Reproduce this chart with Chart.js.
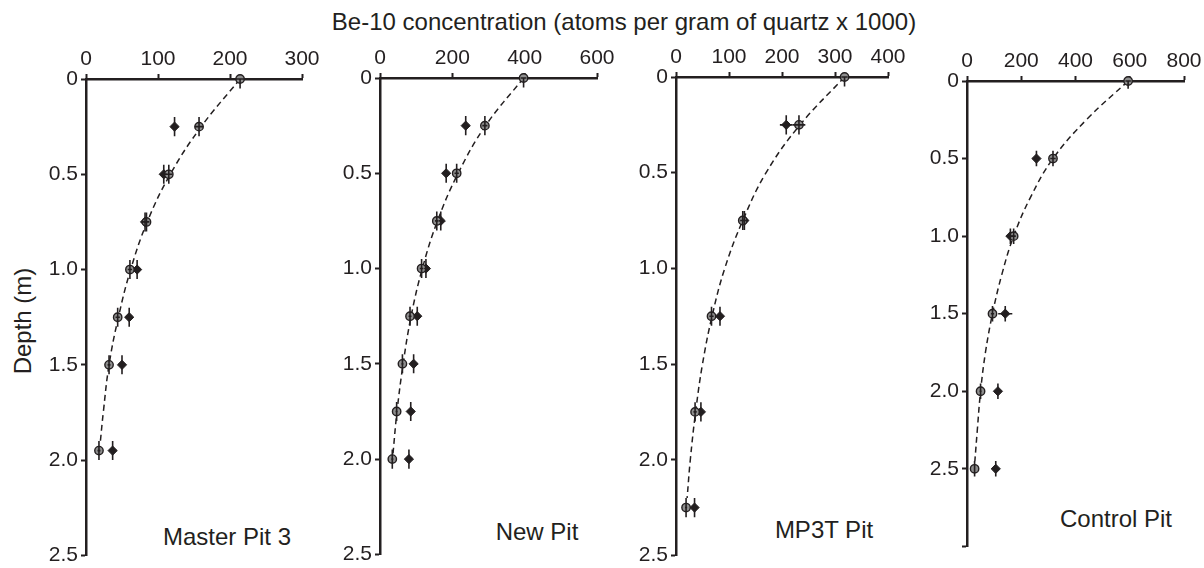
<!DOCTYPE html>
<html>
<head>
<meta charset="utf-8">
<script src="https://cdn.jsdelivr.net/npm/chart.js@4.4.1/dist/chart.umd.min.js"></script>
<style>
  body { margin: 0; width: 1204px; height: 568px; background: #fff; position: relative; overflow: hidden;
         font-family: "Liberation Sans", Arial, sans-serif; color: #231f20; }
  .panel { position: absolute; }
  .txt { position: absolute; white-space: nowrap; font-size: 24px; line-height: 24px; transform: translate(-50%, -50%); }
  #depth { transform: translate(-50%, -50%) rotate(-90deg); }
</style>
</head>
<body>
<div class="txt" style="left:624px;top:22px">Be-10 concentration (atoms per gram of quartz x 1000)</div>
<div class="txt" id="depth" style="left:23px;top:321px">Depth (m)</div>
<div class="txt" style="left:227px;top:537px">Master Pit 3</div>
<div class="txt" style="left:537px;top:532px">New Pit</div>
<div class="txt" style="left:824px;top:530px">MP3T Pit</div>
<div class="txt" style="left:1116px;top:519px">Control Pit</div>

<div class="panel" id="p1"><canvas id="chart-mp3"></canvas></div>
<div class="panel" id="p2"><canvas id="chart-np"></canvas></div>
<div class="panel" id="p3"><canvas id="chart-mp3t"></canvas></div>
<div class="panel" id="p4"><canvas id="chart-cp"></canvas></div>

<script>
  /* ================= DATA ================= */

  // depth half-interval of every sample (m)
  const depthErr = 0.05;
  const depthTicks = [0, 0.5, 1.0, 1.5, 2.0, 2.5];
  const depthTicksControl = [0, 0.5, 1.0, 1.5, 2.0, 2.5, 3.0];

  // Master Pit 3
  const mp3Ticks = [0, 100, 200, 300];
  const mp3GreyDepth = [0, 0.25, 0.5, 0.75, 1.0, 1.25, 1.5, 1.95];
  const mp3Grey = [214, 157, 115, 84, 61, 44, 32, 18];
  const mp3GreyErr = [6, 6, 5, 4, 3, 3, 2, 2];
  const mp3BlackDepth = [0.25, 0.5, 0.75, 1.0, 1.25, 1.5, 1.95];
  const mp3Black = [123, 108, 82, 71, 60, 50, 37];
  const mp3BlackErr = [4, 4, 3, 3, 3, 2, 2];
  const mp3FitDepth = [0, 0.25, 0.5, 0.75, 1.0, 1.25, 1.5, 1.75, 1.9];
  const mp3Fit = [214, 160, 117, 85, 62, 45, 32, 24, 20];

  // New Pit
  const npTicks = [0, 200, 400, 600];
  const npGreyDepth = [0, 0.25, 0.5, 0.75, 1.0, 1.25, 1.5, 1.75, 2.0];
  const npGrey = [397, 290, 212, 157, 115, 83, 62, 46, 34];
  const npGreyErr = [8, 7, 6, 5, 5, 4, 3, 3, 3];
  const npBlackDepth = [0.25, 0.5, 0.75, 1.0, 1.25, 1.5, 1.75, 2.0];
  const npBlack = [237, 183, 168, 127, 103, 93, 85, 80];
  const npBlackErr = [6, 6, 5, 5, 4, 4, 4, 4];
  const npFitDepth = [0, 0.25, 0.5, 0.75, 1.0, 1.25, 1.5, 1.75, 1.97];
  const npFit = [397, 292, 216, 159, 117, 86, 64, 47, 36];

  // MP3T Pit
  const mtTicks = [0, 100, 200, 300, 400];
  const mtGreyDepth = [0, 0.25, 0.75, 1.25, 1.75, 2.25];
  const mtGrey = [318, 232, 126, 67, 36, 19];
  const mtGreyErr = [6, 12, 5, 4, 3, 2];
  const mtBlackDepth = [0.25, 0.75, 1.25, 1.75, 2.25];
  const mtBlack = [208, 129, 83, 47, 35];
  const mtBlackErr = [12, 5, 4, 3, 3];
  const mtFitDepth = [0, 0.25, 0.5, 0.75, 1.0, 1.25, 1.5, 1.75, 2.0, 2.2];
  const mtFit = [318, 234, 170, 126, 92, 68, 50, 37, 27, 21];

  // Control Pit
  const cpTicks = [0, 200, 400, 600, 800];
  const cpGreyDepth = [0, 0.5, 1.0, 1.5, 2.0, 2.5];
  const cpGrey = [594, 317, 172, 94, 50, 28];
  const cpGreyErr = [10, 10, 8, 6, 4, 3];
  const cpBlackDepth = [0.5, 1.0, 1.5, 2.0, 2.5];
  const cpBlack = [256, 160, 141, 114, 106];
  const cpBlackErr = [8, 8, 26, 6, 6];
  const cpFitDepth = [0, 0.25, 0.5, 0.75, 1.0, 1.25, 1.5, 1.75, 2.0, 2.25, 2.45];
  const cpFit = [594, 440, 317, 234, 172, 128, 94, 68, 50, 38, 29];

  /* ================= STYLE ================= */

  const ink = '#231f20';
  const family = '"Liberation Sans", Arial, sans-serif';
  const yAxisWidth = 60;
  const xAxisHeight = 50;
  const padRight = 24;
  const padBottom = 12;

  const toPoints = (depths, vals) => depths.map((d, i) => ({ x: vals[i], y: d }));

  // vertical (depth) and horizontal (concentration) error bars
  const errorBars = {
    id: 'errorBars',
    afterDatasetsDraw(chart) {
      let { ctx, scales: { x, y } } = chart;
      ctx.save();
      ctx.strokeStyle = ink;
      ctx.lineWidth = 1.6;
      chart.data.datasets.forEach(ds => {
        if (!ds.errX) return;
        ds.data.forEach((p, i) => {
          let px = x.getPixelForValue(p.x);
          let py = y.getPixelForValue(p.y);
          ctx.beginPath();
          ctx.moveTo(px, y.getPixelForValue(Math.max(0, p.y - depthErr)));
          ctx.lineTo(px, y.getPixelForValue(p.y + depthErr));
          ctx.moveTo(x.getPixelForValue(p.x - ds.errX[i]), py);
          ctx.lineTo(x.getPixelForValue(p.x + ds.errX[i]), py);
          ctx.stroke();
        });
      });
      ctx.restore();
    }
  };

  const panels = [
    { el: 'p1', canvas: 'chart-mp3', area: [86, 79, 302, 559], xTicks: mp3Ticks, yTicks: depthTicks,
      grey: toPoints(mp3GreyDepth, mp3Grey), greyErr: mp3GreyErr,
      black: toPoints(mp3BlackDepth, mp3Black), blackErr: mp3BlackErr,
      fit: toPoints(mp3FitDepth, mp3Fit) },
    { el: 'p2', canvas: 'chart-np', area: [380, 78, 597, 558], xTicks: npTicks, yTicks: depthTicks,
      grey: toPoints(npGreyDepth, npGrey), greyErr: npGreyErr,
      black: toPoints(npBlackDepth, npBlack), blackErr: npBlackErr,
      fit: toPoints(npFitDepth, npFit) },
    { el: 'p3', canvas: 'chart-mp3t', area: [676, 77, 888, 559], xTicks: mtTicks, yTicks: depthTicks,
      grey: toPoints(mtGreyDepth, mtGrey), greyErr: mtGreyErr,
      black: toPoints(mtBlackDepth, mtBlack), blackErr: mtBlackErr,
      fit: toPoints(mtFitDepth, mtFit) },
    { el: 'p4', canvas: 'chart-cp', area: [967, 81, 1184, 550], xTicks: cpTicks, yTicks: depthTicksControl,
      grey: toPoints(cpGreyDepth, cpGrey), greyErr: cpGreyErr,
      black: toPoints(cpBlackDepth, cpBlack), blackErr: cpBlackErr,
      fit: toPoints(cpFitDepth, cpFit) }
  ];

  panels.forEach(p => {
    let [l, t, r, b] = p.area;
    let box = document.getElementById(p.el);
    let left = l - yAxisWidth, top = t - xAxisHeight;
    box.style.left = left + 'px';
    box.style.top = top + 'px';
    box.style.width = (r - left + padRight) + 'px';
    box.style.height = (b - top + padBottom) + 'px';

    let xt = p.xTicks, yt = p.yTicks;
    let yLast = yt[yt.length - 1];

    new Chart(document.getElementById(p.canvas), {
      type: 'scatter',
      data: {
        datasets: [
          { data: p.grey, errX: p.greyErr, pointStyle: 'circle', pointRadius: 4.2,
            backgroundColor: '#8e8e8e', borderColor: ink, pointBorderWidth: 1.4, clip: false },
          { data: p.black, errX: p.blackErr, pointStyle: 'rectRot', pointRadius: 4.6,
            backgroundColor: ink, borderColor: ink, pointBorderWidth: 1, clip: false },
          { data: p.fit, showLine: true, pointRadius: 0, tension: 0.4, borderColor: ink,
            borderWidth: 1.5, borderDash: [6, 4], fill: false, clip: false }
        ]
      },
      options: {
        responsive: true,
        maintainAspectRatio: false,
        animation: false,
        events: [],
        layout: { padding: { left: 0, top: 0, right: padRight, bottom: padBottom } },
        plugins: { legend: { display: false }, tooltip: { enabled: false } },
        scales: {
          x: {
            type: 'linear', position: 'top',
            min: xt[0], max: xt[xt.length - 1],
            ticks: { stepSize: xt[1] - xt[0], color: ink, padding: 2, maxRotation: 0, autoSkip: false,
                     font: { family, size: 21 } },
            grid: { drawOnChartArea: false, tickLength: 5, tickWidth: 2, color: ink },
            border: { color: ink, width: 2.5 },
            afterFit: s => { s.height = xAxisHeight; }
          },
          y: {
            type: 'linear', reverse: true,
            min: yt[0], max: yLast,
            ticks: { stepSize: yt[1] - yt[0], color: ink, padding: 3, autoSkip: false,
                     font: { family, size: 21 },
                     callback: v => v === 0 ? '0' : (v === 3 ? '' : v.toFixed(1)) },
            grid: { drawOnChartArea: false, tickLength: 5, tickWidth: 2, color: ink },
            border: { color: ink, width: 2.5 },
            afterFit: s => { s.width = yAxisWidth; }
          }
        }
      },
      plugins: [errorBars]
    });
  });
</script>
</body>
</html>
